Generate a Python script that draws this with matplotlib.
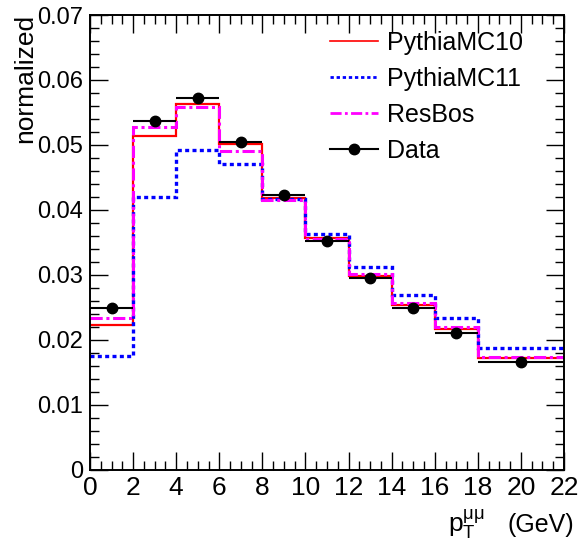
import matplotlib
matplotlib.use("Agg")
import matplotlib.pyplot as plt
from matplotlib.lines import Line2D
from matplotlib.ticker import MultipleLocator, FuncFormatter
import numpy as np

# pT bin edges (GeV)
edges = [0, 2, 4, 6, 8, 10, 12, 14, 16, 18, 22]

pythia10 = [0.0222, 0.0513, 0.0563, 0.0501, 0.0418, 0.0356, 0.0298, 0.0254, 0.0216, 0.0172]
pythia11 = [0.0175, 0.0420, 0.0492, 0.0470, 0.0416, 0.0363, 0.0312, 0.0268, 0.0233, 0.0187]
resbos = [0.0233, 0.0527, 0.0559, 0.0491, 0.0415, 0.0355, 0.0301, 0.0257, 0.0220, 0.0173]
data = [0.0248, 0.0537, 0.0572, 0.0505, 0.0423, 0.0352, 0.0295, 0.0249, 0.0211, 0.0166]

plt.rcParams["font.family"] = ["Liberation Sans", "DejaVu Sans"]
plt.rcParams["mathtext.fontset"] = "custom"
plt.rcParams["mathtext.rm"] = "Liberation Sans"
plt.rcParams["mathtext.it"] = "Liberation Sans:italic"


def yfmt(v, pos):
    if abs(v) < 1e-9:
        return "0"
    return "%.2f" % v


def main():
    fig = plt.figure(figsize=(5.79, 5.54), dpi=100)
    ax = fig.add_axes([90 / 579, 1 - 469.5 / 554, 474 / 579, 454.5 / 554])

    e = np.array(edges)
    centers = (e[:-1] + e[1:]) / 2
    half = (e[1:] - e[:-1]) / 2

    ax.stairs(pythia10, edges, color="#ff0000", lw=1.6, baseline=None)
    ax.stairs(pythia11, edges, color="#0000ff", lw=2.4, ls=(0, (1.2, 1.0)), baseline=None)
    ax.stairs(resbos, edges, color="#ff00ff", lw=2.2, ls=(0, (4, 1.2, 1, 1.2)), baseline=None)
    ax.errorbar(centers, data, xerr=half, fmt="o", color="black", ms=7.5,
                elinewidth=1.5, capsize=0)

    ax.set_xlim(0, 22)
    ax.set_ylim(0, 0.07)
    ax.xaxis.set_major_locator(MultipleLocator(2))
    ax.xaxis.set_minor_locator(MultipleLocator(0.5))
    ax.yaxis.set_major_locator(MultipleLocator(0.01))
    ax.yaxis.set_minor_locator(MultipleLocator(0.002))
    ax.yaxis.set_major_formatter(FuncFormatter(yfmt))
    ax.tick_params(which="both", direction="in", top=True, right=True, width=1)
    ax.tick_params(which="major", length=13)
    ax.tick_params(which="minor", length=6.5)
    ax.tick_params(axis="x", pad=5, labelsize=19)
    ax.tick_params(axis="y", pad=5, labelsize=17)
    for s in ax.spines.values():
        s.set_linewidth(1.4)

    handles = [
        Line2D([], [], color="#ff0000", lw=1.2),
        Line2D([], [], color="#0000ff", lw=2.0, ls=(0, (1.2, 1.0))),
        Line2D([], [], color="#ff00ff", lw=2.0, ls=(0, (4, 1.2, 1, 1.2))),
        Line2D([], [], color="black", lw=1.5, marker="o", ms=7.5),
    ]
    labels = ["PythiaMC10", "PythiaMC11", "ResBos", "Data"]
    ax.legend(handles, labels, loc="upper left", frameon=False, fontsize=18,
              bbox_to_anchor=(330 / 579, 1 - 31 / 554), bbox_transform=fig.transFigure,
              borderpad=0, borderaxespad=0, handlelength=1.92, handletextpad=0.36,
              labelspacing=0.48)

    fig.text(25 / 579, 1 - 14 / 554, "normalized", rotation=90, ha="center",
             va="top", fontsize=19)
    # axis title: variable part and unit drawn separately for ROOT-like spacing
    fig.text(574 / 579, 1 - 532 / 554, "(GeV)", ha="right", va="baseline", fontsize=18)
    fig.text(485 / 579, 1 - 532 / 554, r"$\mathrm{p}_{\mathrm{T}}^{\mathrm{μμ}}$",
             ha="right", va="baseline", fontsize=19)

    fig.savefig("out.png", dpi=100)


if __name__ == "__main__":
    main()
